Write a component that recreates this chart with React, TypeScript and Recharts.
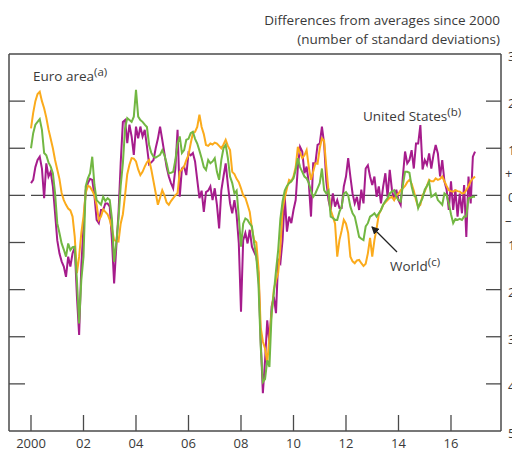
import React from 'react';
import { LineChart, Line, XAxis, YAxis, ReferenceLine } from 'recharts';

// monthly values, Jan 2000 onwards (12 per row)
const euroArea = [
  1.42, 1.75, 2.0, 2.15, 2.2, 2.0, 1.85, 1.65, 1.4, 1.2, 1.0, 0.75,
  0.55, 0.35, 0.05, -0.1, -0.2, -0.28, -0.32, -0.45, -0.88, -1.65, -1.3, -0.8,
  -0.45, 0.05, 0.2, 0.18, 0.1, 0.0, -0.2, -0.52, -0.45, -0.3, -0.35, -0.4,
  -0.52, -0.7, -0.95, -0.97, -0.98, -0.6, -0.4, 0.0, 0.45, 0.65, 0.79, 0.78,
  0.72, 0.55, 0.43, 0.5, 0.61, 0.7, 0.75, 0.55, 0.3, 0.05, -0.2, -0.05,
  0.11, 0.0, -0.15, -0.2, -0.12, -0.06, 0.0, 0.05, 0.5, 0.55, 0.61, 0.75,
  0.86, 1.1, 1.32, 1.35, 1.45, 1.71, 1.45, 1.3, 1.07, 1.05, 1.1, 1.08,
  1.12, 1.1, 1.05, 1.0, 1.08, 1.18, 1.05, 0.96, 0.5, 0.45, 0.35, 0.28,
  0.15, 0.0, -0.05, -0.2, -0.35, -0.7, -0.95, -1.0, -1.55, -2.8, -3.1, -3.25,
  -3.56, -3.0, -2.5, -2.0, -1.8, -1.65, -1.1, -0.3, -0.05, 0.15, 0.33, 0.3,
  0.4, 0.6, 1.03, 0.9, 0.79, 0.85, 0.96, 0.6, 0.33, 0.5, 0.68, 0.67,
  1.0, 1.21, 1.16, 0.6, 0.1, -0.31, -0.45, -0.6, -1.3, -0.95, -0.75, -0.52,
  -0.6, -0.8, -1.3, -1.4, -1.44, -1.38, -1.37, -1.44, -1.5, -1.45, -1.23, -0.9,
  -1.3, -0.95, -0.7, -0.4, -0.31, -0.2, -0.15, -0.1, -0.05, -0.03, -0.1, 0.0,
  0.04, 0.11, 0.15, 0.2, 0.28, 0.33, 0.25, 0.1, -0.1, -0.25, -0.2, 0.0,
  0.08, 0.2, 0.33, 0.3, 0.3, 0.36, 0.33, 0.35, 0.4, 0.3, 0.2, 0.11,
  0.09, 0.08, 0.11, 0.09, 0.08, 0.04, 0.05, 0.11, 0.2, 0.3, 0.36, 0.4,
];

const unitedStates = [
  0.26, 0.33, 0.6, 0.75, 0.82, 0.57, -0.06, 0.68, 0.4, 0.5, 0.19, -0.38,
  -0.95, -1.23, -1.4, -1.51, -1.73, -1.3, -1.51, -1.23, -1.1, -2.15, -2.96, -1.5,
  -0.66, 0.11, 0.26, 0.35, 0.33, 0.0, -0.52, -0.59, -0.31, -0.31, -0.17, -0.17,
  -0.24, -0.95, -1.87, -1.09, -0.38, 0.68, 1.56, 1.6, 1.11, 1.5, 1.25, 0.86,
  1.46, 1.21, 1.46, 1.25, 1.39, 1.04, 0.66, 0.7, 0.75, 1.0, 1.2, 1.46,
  1.18, 0.89, 0.6, 0.4, 0.26, 0.15, 0.57, 1.39, -0.03, 0.57, 0.61, 0.43,
  0.9, 0.85, 0.9, 0.72, 0.33, -0.06, 0.1, -0.35, 0.07, 0.1, 0.19, -0.1,
  0.15, -0.2, -0.7, 0.1, 0.4, 0.68, 0.23, -0.17, -0.38, -0.1, -0.42, -1.02,
  -2.47, -0.95, -0.8, -1.02, -0.73, -1.09, -1.2, -1.3, -1.65, -3.07, -4.2, -3.5,
  -2.65, -3.14, -2.36, -2.15, -2.5, -1.37, -1.44, -0.95, -0.03, -0.77, -0.45, -0.59,
  -0.31, -0.1, 0.61, 1.03, 0.93, 0.47, 0.61, 0.26, -0.45, 0.68, 0.68, 1.07,
  1.1, 1.46, 1.1, 0.3, -0.1, -0.31, 0.04, -0.24, -0.1, -0.27, -0.27, 0.19,
  0.4, 0.79, 0.4, 0.04, -0.17, -0.03, -0.31, 0.12, -0.17, 0.57, 0.64, 0.4,
  0.22, 0.4, -0.03, 0.19, -0.17, 0.19, 0.47, -0.03, 0.54, 0.12, -0.1, 0.12,
  -0.1, -0.2, 0.4, 0.93, 0.68, 0.75, 0.96, 0.57, 1.1, 1.1, 1.49, 0.55,
  0.75, 0.65, 0.89, 0.57, 0.86, 1.07, 0.89, 0.4, 0.75, 0.3, 0.12, -0.31,
  0.3, -0.31, 0.12, -0.45, 0.04, -0.38, 0.22, -0.88, 0.4, -0.17, 0.82, 0.93,
];

const world = [
  1.0, 1.32, 1.5, 1.56, 1.62, 1.39, 0.9, 0.85, 0.7, 0.61, 0.47, 0.05,
  -0.59, -0.8, -1.02, -1.15, -1.3, -1.02, -1.16, -1.1, -1.09, -1.8, -2.72, -1.8,
  -1.3, 0.19, 0.36, 0.47, 0.82, 0.22, -0.1, -0.15, -0.2, -0.03, -0.12, -0.06,
  -0.1, -0.5, -1.41, -1.0, -0.5, 0.2, 0.68, 1.42, 1.64, 1.6, 1.56, 1.67,
  2.24, 1.67, 1.6, 1.56, 1.5, 1.45, 1.07, 0.9, 0.82, 0.8, 0.83, 0.86,
  0.96, 0.85, 0.68, 0.47, 0.48, 0.5, 0.75, 1.1, 1.25, 0.9, 0.96, 1.18,
  1.2, 1.32, 1.35, 1.2, 1.1, 0.95, 0.79, 0.6, 0.54, 0.75, 0.68, 0.72,
  0.79, 0.5, 0.33, 0.75, 1.0, 1.07, 0.79, 0.4, 0.26, 0.04, 0.1, -0.45,
  -1.09, -0.6, -0.49, -0.52, -0.6, -0.66, -1.02, -1.3, -1.9, -3.2, -3.96, -3.9,
  -3.5, -3.64, -2.5, -2.08, -1.6, -1.16, -0.5, -0.13, 0.1, 0.2, 0.26, 0.3,
  0.36, 0.54, 0.79, 0.6, 0.5, 0.4, 0.36, 0.26, 0.1, -0.03, 0.04, 0.15,
  0.26, 0.57, 0.11, 0.04, 0.1, -0.45, -0.48, -0.52, -0.52, -0.35, -0.24, 0.04,
  0.07, 0.0, -0.24, -0.38, -0.45, -0.66, -0.88, -0.92, -0.95, -0.66, -0.59, -0.45,
  -0.42, -0.38, -0.45, -0.38, -0.31, -0.2, -0.12, -0.06, 0.04, 0.08, 0.11, -0.03,
  -0.1, -0.13, 0.22, 0.5, 0.5, 0.48, 0.19, 0.0, -0.03, -0.27, -0.15, -0.06,
  0.12, 0.2, 0.29, -0.03, 0.0, 0.04, -0.1, -0.15, -0.2, 0.04, 0.0, -0.17,
  -0.4, -0.59, -0.5, -0.52, -0.5, -0.52, -0.45, -0.45, -0.06, -0.05, -0.03, -0.03,
];

const startYear = 2000;
const xTicks = [2000, 2002, 2004, 2006, 2008, 2010, 2012, 2014, 2016];
const xTickLabels = ['2000', '02', '04', '06', '08', '10', '12', '14', '16'];
const yTicks = [-5, -4, -3, -2, -1, 0, 1, 2, 3];

const data = euroArea.map((v, i) => ({
  t: startYear + i / 12,
  euro: v,
  us: unitedStates[i],
  world: world[i],
}));

const AXIS = '#4a4a4a';
const TEXT = '#3a3a3a';
const FONT = '"Open Sans", sans-serif';

const LeftTick = (props: any) => {
  const { x, y, payload } = props;
  const v = payload.value;
  if (v <= -5 || v >= 3) return <g />;
  return <line x1={x} x2={x + 16} y1={y} y2={y} stroke={AXIS} strokeWidth={1.3} />;
};

const RightTick = (props: any) => {
  const { x, y, payload } = props;
  const v = payload.value;
  return (
    <g fontFamily={FONT} fontSize={13} fill={TEXT}>
      {v > -5 && v < 3 && <line x1={x - 15} x2={x} y1={y} y2={y} stroke={AXIS} strokeWidth={1.3} />}
      <text x={x + 7} y={y + 2} dominantBaseline="central">{Math.abs(v)}</text>
      {v === 0 && (
        <>
          <text x={x + 4} y={y - 22} dominantBaseline="central">+</text>
          <text x={x + 4} y={y + 25} dominantBaseline="central">–</text>
        </>
      )}
    </g>
  );
};

const BottomTick = (props: any) => {
  const { x, y, payload } = props;
  const i = xTicks.indexOf(payload.value);
  return (
    <g>
      <line x1={x} x2={x} y1={y} y2={y - 16} stroke={AXIS} strokeWidth={1.3} />
      <text x={x} y={y + 12} textAnchor="middle" dominantBaseline="central" fontFamily={FONT} fontSize={13} fill={TEXT}>
        {xTickLabels[i]}
      </text>
    </g>
  );
};

export default function App() {
  return (
    <div style={{ position: 'absolute', left: 0, top: 0, width: 512, height: 451, background: '#fff' }}>
      <LineChart width={512} height={451} data={data} margin={{ top: 54, right: 10, bottom: 0, left: 8 }}>
        <XAxis
          dataKey="t"
          type="number"
          domain={[1999.162, 2017.905]}
          ticks={xTicks}
          interval={0}
          height={20}
          tickSize={0}
          tickMargin={0}
          tickLine={false}
          axisLine={{ stroke: AXIS, strokeWidth: 1.5 }}
          tick={BottomTick}
          allowDataOverflow
        />
        <YAxis
          yAxisId="l"
          domain={[-5, 3]}
          ticks={yTicks}
          interval={0}
          width={1}
          tickSize={0}
          tickMargin={0}
          tickLine={false}
          axisLine={{ stroke: AXIS, strokeWidth: 1.5 }}
          tick={LeftTick}
        />
        <YAxis
          yAxisId="r"
          orientation="right"
          domain={[-5, 3]}
          ticks={yTicks}
          interval={0}
          width={1}
          tickSize={0}
          tickMargin={0}
          tickLine={false}
          axisLine={{ stroke: AXIS, strokeWidth: 1.5 }}
          tick={RightTick}
        />
        <ReferenceLine yAxisId="l" y={3} stroke={AXIS} strokeWidth={1.5} />
        <ReferenceLine
          yAxisId="l"
          segment={[{ x: 2000, y: 0 }, { x: 2017, y: 0 }]}
          stroke={AXIS}
          strokeWidth={1.3}
        />
        <Line yAxisId="r" dataKey="us" stroke="#a61c8c" strokeWidth={2} dot={false} isAnimationActive={false} />
        <Line yAxisId="l" dataKey="euro" stroke="#fbab1c" strokeWidth={2} dot={false} isAnimationActive={false} />
        <Line yAxisId="l" dataKey="world" stroke="#72b743" strokeWidth={2} dot={false} isAnimationActive={false} />
      </LineChart>
      <svg width={512} height={451} style={{ position: 'absolute', left: 0, top: 0, pointerEvents: 'none' }}>
        <g fontFamily={FONT} fontSize={13.5} fill={TEXT}>
          <text x={500} y={25} textAnchor="end">Differences from averages since 2000</text>
          <text x={500} y={44} textAnchor="end">(number of standard deviations)</text>
          <text x={33} y={81}>
            Euro area<tspan dy={-5} fontSize={11.5}>(a)</tspan>
          </text>
          <text x={363} y={121}>
            United States<tspan dy={-5} fontSize={11.5}>(b)</tspan>
          </text>
          <text x={390} y={271}>
            World<tspan dy={-5} fontSize={11.5}>(c)</tspan>
          </text>
        </g>
        <defs>
          <marker id="ah" markerWidth="8" markerHeight="8" refX="7" refY="4" orient="auto" markerUnits="userSpaceOnUse">
            <path d="M0,0 L8,4 L0,8 Z" fill="#222" />
          </marker>
        </defs>
        <line x1={397} y1={252} x2={372} y2={227} stroke="#222" strokeWidth={1.2} markerEnd="url(#ah)" />
      </svg>
    </div>
  );
}
